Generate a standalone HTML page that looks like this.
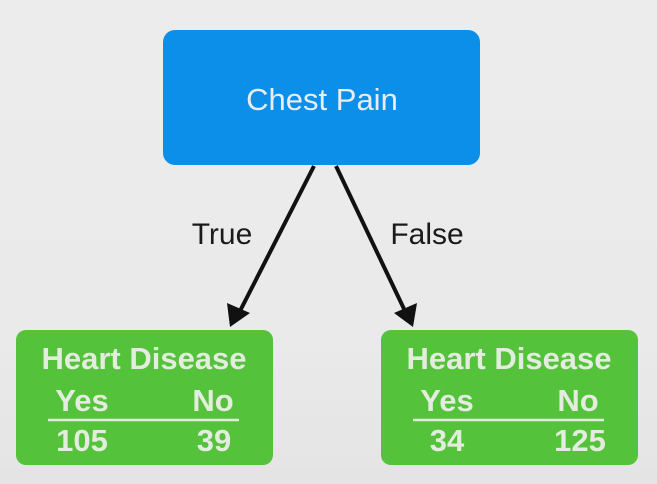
<!DOCTYPE html>
<html><head><meta charset="utf-8"><style>
html,body{margin:0;padding:0;}
body{width:657px;height:484px;background:#ebebeb;overflow:hidden;position:relative;font-family:"Liberation Sans",Arial,sans-serif;}
svg{position:absolute;left:0;top:0;}
</style></head><body>
<svg width="657" height="484" viewBox="0 0 657 484">
<defs><linearGradient id="bg" x1="0" y1="0" x2="0" y2="1"><stop offset="0" stop-color="#ececec"/><stop offset="0.7" stop-color="#eaeaea"/><stop offset="1" stop-color="#e4e4e4"/></linearGradient></defs>
<rect width="657" height="484" fill="url(#bg)"/>
<g>
<rect x="163" y="30" width="317" height="135" rx="12" fill="#0c8fe8"/>
<text x="322" y="110" text-anchor="middle" font-size="31" fill="#e6eef4">Chest Pain</text>
</g>
<g>
<line x1="314" y1="166" x2="240" y2="311" stroke="#111" stroke-width="4"/>
<polygon points="230,327 227,303 250,313" fill="#111"/>
<text x="222" y="244" text-anchor="middle" font-size="30" fill="#1a1a1a">True</text>
</g>
<g>
<line x1="336" y1="166" x2="405" y2="311" stroke="#111" stroke-width="4"/>
<polygon points="413,327 394,313 417,303" fill="#111"/>
<text x="427" y="244" text-anchor="middle" font-size="30" fill="#1a1a1a">False</text>
</g>
<g>
<rect x="16" y="330" width="257" height="135" rx="10" fill="#55c23b"/>
<text x="144" y="369" text-anchor="middle" font-size="31" font-weight="bold" fill="#e4ecdf">Heart Disease</text>
<text x="82" y="411" text-anchor="middle" font-size="31" font-weight="bold" fill="#e4ecdf">Yes</text>
<text x="213" y="411" text-anchor="middle" font-size="31" font-weight="bold" fill="#e4ecdf">No</text>
<line x1="48" y1="420" x2="239" y2="420" stroke="#e4ecdf" stroke-width="2.5"/>
<text x="82" y="451" text-anchor="middle" font-size="31" font-weight="bold" fill="#e4ecdf">105</text>
<text x="214" y="451" text-anchor="middle" font-size="31" font-weight="bold" fill="#e4ecdf">39</text>
</g>
<g>
<rect x="381" y="330" width="257" height="135" rx="10" fill="#55c23b"/>
<text x="509" y="369" text-anchor="middle" font-size="31" font-weight="bold" fill="#e4ecdf">Heart Disease</text>
<text x="447" y="411" text-anchor="middle" font-size="31" font-weight="bold" fill="#e4ecdf">Yes</text>
<text x="578" y="411" text-anchor="middle" font-size="31" font-weight="bold" fill="#e4ecdf">No</text>
<line x1="413" y1="420" x2="604" y2="420" stroke="#e4ecdf" stroke-width="2.5"/>
<text x="447" y="451" text-anchor="middle" font-size="31" font-weight="bold" fill="#e4ecdf">34</text>
<text x="580" y="451" text-anchor="middle" font-size="31" font-weight="bold" fill="#e4ecdf">125</text>
</g>
</svg>
</body></html>
